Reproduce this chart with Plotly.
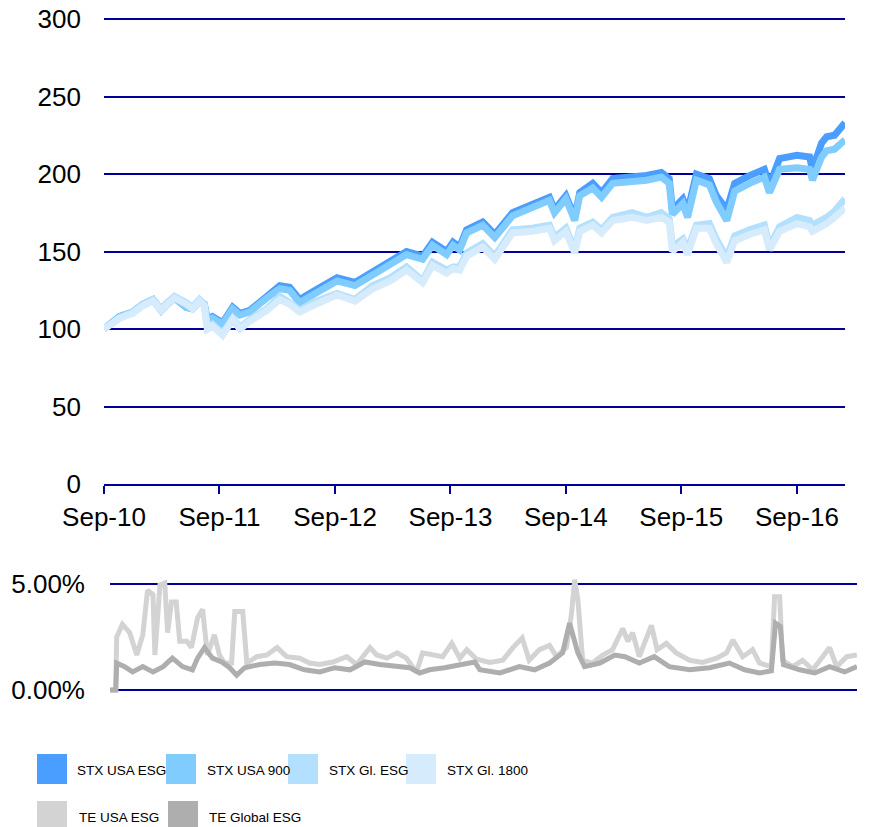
import plotly.graph_objects as go

# the page body adds an 8px margin, so the figure is drawn 8px in and shrunk to fit
OFF = 8
W, H = 879 - OFF, 827 - OFF
NAVY = "#000099"
FONT = "Liberation Sans, Arial, sans-serif"

# ---- index levels, rebased to 100 ----
idx_dates = [
    "2010-09-01", "2010-10-20", "2010-12-01",
    "2011-01-02", "2011-02-03", "2011-03-01", "2011-03-20", "2011-04-12", "2011-05-19",
    "2011-06-08", "2011-06-30", "2011-07-15", "2011-07-25", "2011-08-10", "2011-09-11",
    "2011-10-13", "2011-11-05", "2011-12-06",
    "2012-01-29", "2012-03-10", "2012-04-10", "2012-05-12", "2012-06-22", "2012-07-30",
    "2012-09-07", "2012-11-03", "2012-12-29",
    "2013-02-22", "2013-04-15", "2013-06-05", "2013-07-06", "2013-08-20", "2013-09-09",
    "2013-09-30", "2013-10-22", "2013-12-12",
    "2014-01-19", "2014-03-16", "2014-05-18", "2014-07-11", "2014-07-27", "2014-09-01",
    "2014-09-29", "2014-10-15", "2014-11-25", "2014-12-23",
    "2015-01-27", "2015-03-30", "2015-05-14", "2015-06-30", "2015-07-25", "2015-08-04",
    "2015-09-06", "2015-09-21", "2015-10-19", "2015-11-29", "2015-12-21",
    "2016-01-23", "2016-02-17", "2016-04-04", "2016-05-21", "2016-06-06", "2016-07-08",
    "2016-09-01", "2016-10-11", "2016-10-20", "2016-11-18", "2016-12-04", "2016-12-29",
    "2017-01-31",
]
stx_usa_esg = [
    100, 108, 111,
    116, 119, 112, 116, 120, 114, 113, 118, 116, 106, 108, 104, 114, 110, 112,
    121, 128, 127, 119, 124, 128, 133, 130, 137,
    143, 150, 147, 156, 150, 156, 153, 164, 169,
    161, 175, 181, 185, 177, 186, 172, 188, 194, 188,
    197, 198, 199, 201, 197, 177, 184, 176, 200, 197, 186,
    177, 194, 199, 203, 193, 210, 212, 211, 203, 220, 224, 225,
    233,
]
stx_usa_900 = [
    100, 108, 111,
    116, 119, 112, 116, 120, 114, 113, 118, 116, 105, 107, 103, 113, 109, 111,
    120, 126, 125, 117, 122, 126, 131, 128, 135,
    141, 148, 145, 154, 148, 154, 151, 162, 167,
    159, 173, 179, 183, 175, 184, 170, 186, 191, 185,
    194, 195, 196, 198, 194, 174, 181, 172, 196, 193, 182,
    170, 189, 194, 198, 188, 203, 204, 203, 196, 211, 215, 216,
    222,
]
stx_gl_esg = [
    100, 107, 111,
    116, 119, 113, 117, 121, 117, 114, 119, 116, 101, 103, 97, 107, 101, 106,
    113, 121, 117, 112, 117, 120, 123, 119, 128,
    133, 140, 131, 143, 138, 140, 140, 149, 155,
    147, 164, 165, 167, 159, 165, 151, 165, 169, 164,
    172, 175, 172, 175, 171, 153, 158, 151, 167, 168, 158,
    146, 160, 164, 167, 153, 166, 172, 170, 167, 170, 172, 176,
    184,
]
stx_gl_1800 = [
    100, 107, 110,
    115, 118, 112, 116, 120, 116, 113, 118, 115, 100, 102, 96, 106, 100, 105,
    112, 119, 116, 111, 115, 118, 122, 118, 126,
    131, 138, 130, 141, 136, 139, 138, 147, 153,
    145, 162, 163, 165, 157, 163, 149, 163, 167, 162,
    170, 172, 170, 172, 169, 150, 156, 148, 165, 165, 155,
    143, 157, 161, 164, 151, 163, 168, 166, 163, 166, 168, 172,
    178,
]

# ---- tracking errors, % ----
te_usa_dates = [
    "2010-09-01", "2010-09-19", "2010-09-22", "2010-10-10", "2010-11-02", "2010-11-24",
    "2010-12-13", "2010-12-28", "2011-01-14", "2011-01-20", "2011-02-05", "2011-02-20",
    "2011-03-01", "2011-03-13", "2011-03-28", "2011-04-08", "2011-04-30", "2011-05-15",
    "2011-06-03", "2011-06-19", "2011-07-04", "2011-07-26", "2011-08-11", "2011-08-27",
    "2011-09-18", "2011-09-28", "2011-10-23", "2011-11-05", "2011-12-06", "2012-01-07",
    "2012-02-08", "2012-03-09", "2012-04-19", "2012-05-20", "2012-06-21", "2012-08-01",
    "2012-09-14", "2012-10-15", "2012-11-26", "2012-12-17", "2013-01-18", "2013-02-19",
    "2013-03-20", "2013-04-21", "2013-05-10", "2013-06-10", "2013-07-12", "2013-08-10",
    "2013-09-04", "2013-09-26", "2013-10-27", "2013-12-07", "2014-01-17", "2014-02-18",
    "2014-03-19", "2014-04-10", "2014-05-12", "2014-06-13", "2014-07-05", "2014-08-05",
    "2014-08-21", "2014-08-31", "2014-09-10", "2014-09-25", "2014-10-26", "2014-11-27",
    "2014-12-28", "2015-01-29", "2015-02-14", "2015-03-01", "2015-03-22", "2015-04-29",
    "2015-05-17", "2015-06-15", "2015-07-16", "2015-08-27", "2015-10-07", "2015-11-20",
    "2015-12-21", "2016-01-10", "2016-02-10", "2016-03-12", "2016-04-03", "2016-05-10",
    "2016-05-20", "2016-06-05", "2016-06-14", "2016-07-16", "2016-08-16", "2016-09-17",
    "2016-10-18", "2016-11-09", "2016-12-01", "2017-01-02", "2017-02-03",
]
te_usa_esg = [
    0, 0, 2.5, 3.1, 2.7, 1.65,
    2.6, 4.7, 4.5, 1.65, 4.95, 5.05,
    2.7, 4.15, 4.15, 2.3, 2.3, 2.0,
    3.4, 3.8, 1.65, 2.6, 1.65, 1.27,
    1.27, 3.7, 3.7, 1.27, 1.57, 1.65,
    2.0, 1.57, 1.5, 1.27, 1.2, 1.32,
    1.57, 1.2, 2.0, 1.65, 1.5, 1.75,
    1.5, 0.85, 1.75, 1.65, 1.57, 2.2,
    1.5, 1.9, 1.45, 1.3, 1.4, 2.0,
    2.45, 1.4, 1.9, 2.1, 1.57, 2.0,
    3.6, 5.2, 4.25, 1.4, 1.27, 1.65,
    1.9, 2.9, 2.3, 2.7, 1.57, 3.05,
    1.9, 2.2, 1.75, 1.4, 1.3, 1.5,
    1.75, 2.35, 1.57, 1.9, 1.27, 1.1,
    4.4, 4.4, 1.4, 1.1, 1.4, 0.95,
    1.57, 2.0, 1.1, 1.57, 1.65,
]
te_global_dates = [
    "2010-09-01", "2010-09-19", "2010-09-22", "2010-10-17", "2010-11-11", "2010-12-13",
    "2011-01-14", "2011-02-15", "2011-03-16", "2011-04-17", "2011-05-18", "2011-06-03",
    "2011-06-25", "2011-07-20", "2011-08-18", "2011-09-12", "2011-10-04", "2011-10-29",
    "2011-12-15", "2012-02-01", "2012-03-18", "2012-05-04", "2012-06-21", "2012-08-07",
    "2012-09-24", "2012-11-10", "2012-12-27", "2013-02-13", "2013-03-31", "2013-05-01",
    "2013-06-01", "2013-07-18", "2013-09-04", "2013-10-21", "2013-11-06", "2014-01-08",
    "2014-03-10", "2014-04-27", "2014-06-13", "2014-07-24", "2014-08-15", "2014-09-10",
    "2014-10-01", "2014-11-18", "2015-01-04", "2015-02-05", "2015-03-22", "2015-05-08",
    "2015-06-24", "2015-08-27", "2015-10-29", "2015-12-30", "2016-02-16", "2016-04-03",
    "2016-05-10", "2016-05-23", "2016-06-07", "2016-06-17", "2016-08-07", "2016-09-23",
    "2016-11-09", "2016-12-26", "2017-02-03",
]
te_global_esg = [
    0, 0, 1.27, 1.1, 0.85, 1.1,
    0.85, 1.1, 1.5, 1.1, 0.95, 1.5,
    2.0, 1.5, 1.32, 1.05, 0.7, 1.05,
    1.2, 1.27, 1.2, 0.95, 0.85, 1.05,
    0.95, 1.32, 1.2, 1.1, 1.05, 0.8,
    0.95, 1.05, 1.2, 1.32, 0.95, 0.8,
    1.1, 0.95, 1.27, 1.75, 3.15, 1.75,
    1.1, 1.27, 1.65, 1.57, 1.27, 1.57,
    1.1, 0.95, 1.05, 1.27, 0.95, 0.8,
    0.9, 3.15, 3.0, 1.2, 0.95, 0.8,
    1.1, 0.85, 1.1,
]
te_ticks = [0, 5]

INDEX_SERIES = [
    ("STX USA ESG", stx_usa_esg, "#4A9EFF"),
    ("STX USA 900", stx_usa_900, "#80CCFF"),
    ("STX Gl. ESG", stx_gl_esg, "#B3E0FF"),
    ("STX Gl. 1800", stx_gl_1800, "#D6EBFC"),
]
TE_SERIES = [
    ("TE USA ESG", te_usa_dates, te_usa_esg, "#D3D3D3"),
    ("TE Global ESG", te_global_dates, te_global_esg, "#AEAEAE"),
]


def px(x):
    # screen pixel -> paper fraction
    return (x - OFF) / W


def py(y):
    return 1 - (y - OFF) / H


fig = go.Figure()
for name, ys, color in INDEX_SERIES:
    fig.add_trace(go.Scatter(x=idx_dates, y=ys, name=name, mode="lines",
                             line=dict(color=color, width=7), xaxis="x", yaxis="y", showlegend=False))
for name, xs, ys, color in TE_SERIES:
    fig.add_trace(go.Scatter(x=xs, y=ys, name=name, mode="lines",
                             line=dict(color=color, width=5), xaxis="x2", yaxis="y2", showlegend=False))

# hand-made legend: coloured squares with labels
legend_rows = [
    [(INDEX_SERIES[0], 37, 75), (INDEX_SERIES[1], 166, 205), (INDEX_SERIES[2], 288, 327), (INDEX_SERIES[3], 406, 445)],
    [(TE_SERIES[0], 37, 77), (TE_SERIES[1], 168, 207)],
]
row_y = [754, 801]
shapes, annotations = [], []
for row, y0 in zip(legend_rows, row_y):
    for series, sx, tx in row:
        name, color = series[0], series[-1]
        shapes.append(dict(type="rect", xref="paper", yref="paper", x0=px(sx), x1=px(sx + 30),
                           y0=py(y0 + 30), y1=py(y0), fillcolor=color, line=dict(width=0)))
        annotations.append(dict(text=name, xref="paper", yref="paper", x=px(tx), y=py(y0 + 16),
                                xanchor="left", yanchor="middle", showarrow=False,
                                font=dict(family=FONT, size=13.5, color="#000000")))

fig.update_layout(
    width=W, height=H, autosize=False,
    margin=dict(l=0, r=0, t=0, b=0, pad=0),
    plot_bgcolor="#FFFFFF", paper_bgcolor="#FFFFFF",
    font=dict(family=FONT, size=26, color="#000000"),
    showlegend=False,
    xaxis=dict(
        domain=[px(104), px(845)], anchor="y", type="date", automargin=False,
        range=["2010-09-01", "2017-01-31"],
        tick0="2010-09-01", dtick="M12", tickformat="%b-%y",
        showgrid=False, zeroline=False,
        showline=True, linecolor=NAVY, linewidth=2,
        ticks="outside", ticklen=8, tickwidth=2, tickcolor=NAVY,
        ticklabelstandoff=1, ticklabeloverflow="allow",
    ),
    xaxis3=dict(
        overlaying="x", anchor="y", type="date", automargin=False,
        range=["2010-09-01", "2017-01-31"],
        tick0="2010-09-01", dtick="M12",
        showgrid=False, zeroline=False, showline=False, showticklabels=False,
        ticks="inside", ticklen=8, tickwidth=2, tickcolor=NAVY,
    ),
    yaxis=dict(
        domain=[py(484), py(17.45)], anchor="x", automargin=False,
        range=[0, 301], tickvals=[0, 50, 100, 150, 200, 250, 300],
        showgrid=True, gridcolor=NAVY, gridwidth=2, zeroline=False,
        ticks="", ticklabelstandoff=22, ticklabeloverflow="allow",
    ),
    xaxis2=dict(
        domain=[px(110), px(857)], anchor="y2", type="date", automargin=False,
        range=["2010-09-01", "2017-02-03"],
        showgrid=False, zeroline=False, showline=False, showticklabels=False, ticks="",
    ),
    yaxis2=dict(
        domain=[py(694.2), py(575.5)], anchor="x2", automargin=False,
        range=[-0.2, 5.4], tickvals=te_ticks, ticktext=[f"{v:.2f}%" for v in te_ticks],
        showgrid=True, gridcolor=NAVY, gridwidth=2, zeroline=False,
        ticks="", ticklabelstandoff=24, ticklabeloverflow="allow",
    ),
    shapes=shapes,
    annotations=annotations,
)

fig.write_html("out.html")
